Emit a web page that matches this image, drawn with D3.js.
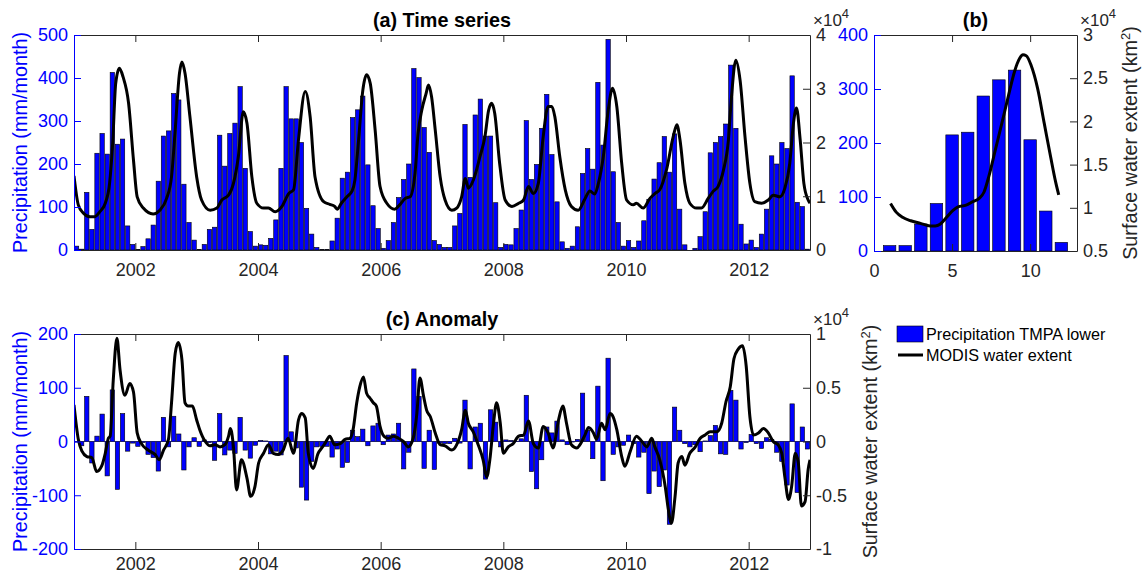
<!DOCTYPE html>
<html><head><meta charset="utf-8">
<script src="https://cdn.jsdelivr.net/npm/d3@7"></script>
<style>
body{margin:0;background:#fff}
svg{display:block}
text{font-family:"Liberation Sans",Arial,Helvetica,sans-serif}
</style>
</head><body>
<svg id="chart" width="1146" height="576"></svg>
<script>
// ---------------- DATA ----------------
const startYear = 2001;
const yearTicks = [2002, 2004, 2006, 2008, 2010, 2012];
// monthly precipitation (mm/month), Jan 2001 .. Dec 2012
const precip = [
  9, 2, 134, 48, 225, 271, 223, 413, 246, 258, 56, 13,
  1, 8, 26, 58, 160, 265, 277, 364, 349, 153, 64, 23,
  1, 13, 48, 53, 267, 195, 271, 295, 380, 190, 43, 9,
  12, 11, 27, 70, 190, 380, 305, 305, 250, 97, 37, 6,
  1, 1, 21, 74, 167, 181, 308, 326, 358, 198, 103, 50,
  4, 22, 64, 122, 164, 200, 422, 401, 285, 227, 22, 13,
  6, 6, 56, 85, 292, 169, 314, 351, 265, 265, 110, 6,
  13, 12, 50, 93, 301, 164, 199, 283, 362, 222, 112, 19,
  4, 9, 54, 178, 236, 188, 390, 244, 490, 182, 64, 9,
  22, 6, 21, 68, 118, 165, 203, 264, 181, 270, 95, 12,
  0, 4, 31, 89, 226, 250, 264, 293, 430, 283, 60, 14,
  23, 6, 37, 95, 219, 200, 250, 236, 405, 111, 101, 2
];
// precipitation anomaly (mm/month)
const precipAnomaly = [
  -1, -8, 84, -40, 10, 51, -64, 96, -89, 52, -18, -3,
  -9, -2, -24, -30, -55, 45, -10, 47, 14, -53, -10, 7,
  -9, 3, -2, -35, 52, -25, -16, -22, 45, -16, -31, -7,
  2, 1, -23, -18, -25, 160, 18, -12, -85, -109, -37, -10,
  -9, -9, -29, -14, -48, -39, 21, 9, 23, -8, 29, 34,
  -6, 12, 14, 34, -51, -20, 135, 84, -50, 21, -52, -3,
  -4, -4, 6, -3, 77, -51, 27, 34, -70, 59, 36, -10,
  3, 2, 0, 5, 86, -56, -88, -34, 27, 16, 38, 3,
  -6, -1, 4, 90, 21, -32, 103, -73, 155, -24, -10, -7,
  12, -4, -29, -20, -97, -55, -84, -53, -154, 64, 21, -4,
  -10, -6, -19, 1, 11, 30, -23, -24, 95, 77, -14, -2,
  13, -4, -13, 7, 4, -20, -37, -81, 70, -95, 27, -14
];
// MODIS water extent (x 10^4 km^2)
const waterTime = [2001.00,2001.07,2001.15,2001.26,2001.34,2001.42,2001.51,2001.58,2001.63,2001.68,2001.74,2001.80,2001.89,2001.97,
  2002.03,2002.13,2002.29,2002.40,2002.51,2002.59,2002.65,2002.72,2002.76,2002.81,2002.89,
  2003.00,2003.08,2003.22,2003.33,2003.41,2003.52,2003.60,2003.68,2003.76,2003.82,2003.90,2003.98,
  2004.09,2004.17,2004.28,2004.39,2004.50,2004.58,2004.66,2004.77,2004.85,2004.93,
  2005.07,2005.17,2005.25,2005.29,2005.36,2005.45,2005.53,2005.58,2005.64,2005.71,2005.77,2005.83,2005.91,2005.99,
  2006.10,2006.23,2006.31,2006.40,2006.48,2006.56,2006.61,2006.67,2006.74,2006.78,2006.83,2006.89,2006.97,
  2007.05,2007.16,2007.24,2007.32,2007.38,2007.43,2007.51,2007.62,2007.70,2007.76,2007.81,2007.86,2007.94,
  2008.03,2008.14,2008.25,2008.33,2008.41,2008.49,2008.57,2008.65,2008.73,2008.79,2008.84,2008.92,
  2009.01,2009.11,2009.22,2009.33,2009.41,2009.49,2009.55,2009.63,2009.71,2009.78,2009.85,2009.93,
  2010.01,2010.12,2010.17,2010.28,2010.39,2010.47,2010.55,2010.66,2010.77,2010.83,2010.88,2010.96,
  2011.04,2011.15,2011.23,2011.34,2011.42,2011.50,2011.59,2011.67,2011.72,2011.79,2011.86,2011.94,
  2012.02,2012.10,2012.21,2012.32,2012.40,2012.51,2012.59,2012.67,2012.73,2012.78,2012.84,2012.90,2012.97,2013.00];
const waterExtent = [1.38,0.84,0.69,0.62,0.62,0.71,0.87,1.24,1.98,3.10,3.38,3.22,2.73,1.67,
  0.99,0.78,0.67,0.74,0.96,1.36,2.23,3.29,3.50,3.29,2.48,
  1.36,0.93,0.74,0.78,0.93,1.02,1.24,1.74,2.57,2.36,1.36,0.87,
  0.78,0.78,0.71,0.81,1.05,1.12,2.05,2.95,2.48,1.36,
  0.90,0.85,0.81,0.76,0.87,0.99,1.09,1.30,2.05,2.98,3.26,3.10,2.23,1.18,
  0.87,0.76,0.84,0.96,0.99,1.43,2.17,2.60,2.91,3.07,2.85,2.23,1.36,
  0.93,0.74,0.78,0.99,1.33,1.15,1.30,1.74,2.11,2.60,2.73,2.54,1.61,
  0.93,0.81,0.87,0.93,1.18,1.05,1.24,2.11,2.67,2.67,2.48,1.74,
  1.12,0.81,0.74,0.95,1.10,1.04,1.24,1.74,2.60,3.01,2.67,1.61,
  0.93,0.84,0.87,0.78,0.96,1.05,1.12,1.49,2.11,2.33,2.05,1.24,
  0.87,0.78,0.78,0.96,1.09,1.18,1.49,2.05,2.85,3.53,3.16,2.11,
  1.24,0.90,0.87,0.93,1.02,0.99,1.15,1.61,2.36,2.64,2.05,1.24,0.93,0.87];
// monthly climatology
const climMonth = [1,2,3,4,5,6,7,8,9,10,11,12];
const climPrecip = [10, 10, 50, 88, 215, 220, 287, 317, 335, 206, 74, 16];
const climWaterMonth = [1.06,1.42,1.83,2.35,2.98,3.60,3.92,4.23,4.65,5.06,5.38,5.90,6.31,6.73,7.04,7.35,7.77,8.19,8.60,9.02,9.33,9.54,9.75,10.06,10.48,10.90,11.31,11.63,11.83];
const climWater = [1.05,0.95,0.89,0.85,0.82,0.79,0.79,0.81,0.89,0.97,1.01,1.03,1.07,1.11,1.18,1.36,1.67,1.98,2.29,2.59,2.73,2.77,2.76,2.65,2.38,1.98,1.59,1.30,1.15];
// water extent anomaly (x 10^4 km^2)
const anomTime = [2001.00,2001.07,2001.13,2001.21,2001.29,2001.37,2001.45,2001.51,2001.56,2001.59,2001.64,2001.70,2001.75,2001.83,2001.91,2001.97,
  2002.03,2002.10,2002.21,2002.32,2002.39,2002.46,2002.54,2002.59,2002.65,2002.70,2002.76,2002.81,2002.86,2002.93,
  2003.00,2003.05,2003.14,2003.22,2003.30,2003.38,2003.46,2003.52,2003.55,2003.60,2003.65,2003.73,2003.82,2003.88,2003.95,
  2004.01,2004.09,2004.17,2004.25,2004.33,2004.41,2004.49,2004.58,2004.66,2004.71,2004.77,2004.82,2004.90,2004.98,
  2005.04,2005.09,2005.17,2005.25,2005.34,2005.42,2005.50,2005.55,2005.61,2005.66,2005.72,2005.77,2005.83,2005.88,2005.93,2005.99,
  2006.04,2006.12,2006.21,2006.29,2006.37,2006.45,2006.53,2006.59,2006.64,2006.70,2006.75,2006.81,2006.89,2006.97,
  2007.05,2007.16,2007.24,2007.32,2007.38,2007.43,2007.51,2007.59,2007.67,2007.73,2007.78,2007.84,2007.89,2007.95,
  2008.00,2008.08,2008.16,2008.25,2008.33,2008.41,2008.49,2008.57,2008.65,2008.73,2008.81,2008.90,2008.97,
  2009.03,2009.11,2009.20,2009.25,2009.33,2009.39,2009.47,2009.52,2009.60,2009.66,2009.74,2009.79,2009.85,2009.93,2009.98,
  2010.07,2010.17,2010.26,2010.34,2010.42,2010.47,2010.55,2010.64,2010.69,2010.74,2010.80,2010.85,2010.91,2010.96,
  2011.04,2011.13,2011.21,2011.29,2011.37,2011.48,2011.56,2011.63,2011.70,2011.76,2011.83,2011.90,2011.96,
  2012.02,2012.08,2012.16,2012.24,2012.32,2012.40,2012.48,2012.54,2012.59,2012.65,2012.70,2012.76,2012.81,2012.86,2012.92,2012.97,2013.00];
const anomWater = [0.34,0.02,-0.09,-0.14,-0.15,-0.28,-0.23,-0.11,0.03,0.05,0.57,0.96,0.67,0.43,0.54,0.46,
  0.08,-0.02,-0.08,-0.12,-0.17,-0.08,0.02,0.36,0.82,0.92,0.76,0.36,0.33,0.33,
  0.20,0.11,0.00,-0.04,-0.03,-0.05,-0.03,0.05,0.12,-0.05,-0.45,-0.17,-0.34,-0.51,-0.42,
  -0.20,-0.11,-0.03,-0.11,-0.12,-0.08,0.03,-0.11,0.20,0.26,0.22,-0.11,-0.25,-0.11,
  -0.06,-0.02,0.05,-0.03,-0.02,0.02,0.03,0.11,0.36,0.51,0.60,0.45,0.40,0.36,0.33,0.14,
  0.06,0.03,0.05,0.03,0.00,-0.05,0.03,0.26,0.59,0.42,0.29,0.23,0.08,-0.03,
  -0.04,-0.08,-0.03,0.11,0.29,0.17,0.09,-0.03,-0.17,-0.33,-0.17,0.17,0.36,0.17,
  -0.11,-0.05,-0.02,0.05,0.06,0.19,-0.02,-0.06,0.14,0.08,-0.06,0.20,0.33,
  0.17,-0.03,-0.06,-0.03,0.06,0.13,0.08,0.02,0.17,0.11,0.26,0.23,0.11,-0.14,-0.23,
  -0.09,0.05,0.00,-0.05,0.03,-0.05,-0.17,-0.42,-0.63,-0.76,-0.51,-0.20,-0.14,-0.22,
  -0.11,-0.05,0.03,0.06,0.09,0.09,0.17,0.37,0.51,0.77,0.86,0.89,0.70,
  0.23,0.06,0.08,0.12,0.08,0.00,-0.03,-0.11,-0.33,-0.54,-0.42,-0.11,-0.20,-0.60,-0.56,-0.26,-0.17];

const titles = ["(a) Time series", "(b)", "(c) Anomaly"];
const leftLabel = "Precipitation (mm/month)";
const rightLabel = "Surface water extent (km";
const legendLabels = ["Precipitation TMPA lower", "MODIS water extent"];

// ---------------- LAYOUT ----------------
const svg = d3.select("#chart");
const AX = "#262626", BLUE = "#0000ff";
const FS = 18, LFS = 19.8;
const TICK = 7;
const PA = {l: 74, r: 810, t: 35, b: 250};
const PB = {l: 874, r: 1077, t: 35, b: 251};
const PC = {l: 74, r: 810, t: 334, b: 549};

function clip(id, P) {
  svg.append("defs").append("clipPath").attr("id", id)
    .append("rect").attr("x", P.l).attr("y", P.t).attr("width", P.r - P.l).attr("height", P.b - P.t);
}
clip("clipA", PA); clip("clipB", PB); clip("clipC", PC);

function styleAxis(g, color, fs) {
  g.attr("font-size", fs).attr("font-family", null);
  g.selectAll("path.domain").attr("stroke", color).attr("stroke-width", 1);
  g.selectAll(".tick line").attr("stroke", color).attr("stroke-width", 1);
  g.selectAll(".tick text").attr("fill", color);
}

function drawFrame(P, xs, yl, yr, o) {
  const g = svg.append("g");
  const bot = g.append("g").attr("transform", `translate(0,${P.b})`)
    .call(d3.axisBottom(xs).tickValues(o.xticks).tickFormat(d => String(d)).tickSize(-TICK).tickSizeOuter(0).tickPadding(o.xpad));
  styleAxis(bot, AX, FS);
  const top = g.append("g").attr("transform", `translate(0,${P.t})`)
    .call(d3.axisTop(xs).tickValues(o.xticks).tickFormat("").tickSize(-TICK).tickSizeOuter(0));
  styleAxis(top, AX, FS);
  const right = g.append("g").attr("transform", `translate(${P.r},0)`)
    .call(d3.axisRight(yr).tickValues(o.yrticks).tickFormat(d => String(d)).tickSize(-TICK).tickSizeOuter(0).tickPadding(6));
  styleAxis(right, AX, FS);
  const left = g.append("g").attr("transform", `translate(${P.l},0)`)
    .call(d3.axisLeft(yl).tickValues(o.ylticks).tickFormat(d => String(d)).tickSize(-TICK).tickSizeOuter(0).tickPadding(6));
  styleAxis(left, BLUE, FS);
  // x10^4 multiplier
  const m = svg.append("text").attr("x", P.r + 3).attr("y", P.t - 9)
    .attr("font-size", 17).attr("fill", AX).text("\u00d710");
  m.append("tspan").attr("dy", -8).attr("font-size", 13).text("4");
}

function rotLabel(x, y, txt, color, sup) {
  const t = svg.append("text").attr("transform", `translate(${x},${y}) rotate(-90)`)
    .attr("text-anchor", "middle").attr("font-size", LFS).attr("fill", color).text(txt);
  if (sup) {
    t.append("tspan").attr("dy", -7).attr("font-size", 13).text("2");
    t.append("tspan").attr("dy", 7).text(")");
  }
}

function title(P, txt, y) {
  svg.append("text").attr("x", (P.l + P.r) / 2).attr("y", y).attr("text-anchor", "middle")
    .attr("font-size", LFS).attr("font-weight", "bold").attr("fill", "#000").text(txt);
}

const monthCenter = i => startYear + (i + 0.5) / 12;
const lineGen = (xs, ys) => d3.line().x(d => xs(d[0])).y(d => ys(d[1])).curve(d3.curveMonotoneX);

// ---------------- PANEL A ----------------
{
  const x = d3.scaleLinear().domain([2001, 2013]).range([PA.l, PA.r]);
  const yl = d3.scaleLinear().domain([0, 500]).range([PA.b, PA.t]);
  const yr = d3.scaleLinear().domain([0, 4]).range([PA.b, PA.t]);
  const bw = (x(2001 + 1 / 12) - x(2001)) * 0.85;
  const g = svg.append("g").attr("clip-path", "url(#clipA)");
  g.selectAll("rect").data(precip).join("rect")
    .attr("x", (d, i) => x(monthCenter(i)) - bw / 2).attr("width", bw)
    .attr("y", d => yl(d)).attr("height", d => yl(0) - yl(d))
    .attr("fill", BLUE).attr("stroke", "#000").attr("stroke-width", 0.6);
  g.append("path").datum(d3.zip(waterTime, waterExtent)).attr("d", lineGen(x, yr))
    .attr("fill", "none").attr("stroke", "#000").attr("stroke-width", 3).attr("stroke-linejoin", "round");
  drawFrame(PA, x, yl, yr, {xticks: yearTicks, xpad: 13, yrticks: [0, 1, 2, 3, 4], ylticks: [0, 100, 200, 300, 400, 500]});
  title(PA, titles[0], 27);
  rotLabel(27, (PA.t + PA.b) / 2, leftLabel, BLUE);
}

// ---------------- PANEL B ----------------
{
  const x = d3.scaleLinear().domain([0, 13]).range([PB.l, PB.r]);
  const yl = d3.scaleLinear().domain([0, 400]).range([PB.b, PB.t]);
  const yr = d3.scaleLinear().domain([0.5, 3]).range([PB.b, PB.t]);
  const bw = (x(1) - x(0)) * 0.8;
  const g = svg.append("g").attr("clip-path", "url(#clipB)");
  g.selectAll("rect").data(climPrecip).join("rect")
    .attr("x", (d, i) => x(climMonth[i]) - bw / 2).attr("width", bw)
    .attr("y", d => yl(d)).attr("height", d => yl(0) - yl(d))
    .attr("fill", BLUE).attr("stroke", "#000").attr("stroke-width", 0.6);
  g.append("path").datum(d3.zip(climWaterMonth, climWater)).attr("d", lineGen(x, yr))
    .attr("fill", "none").attr("stroke", "#000").attr("stroke-width", 3).attr("stroke-linejoin", "round");
  drawFrame(PB, x, yl, yr, {xticks: [0, 5, 10], xpad: 13, yrticks: [0.5, 1, 1.5, 2, 2.5, 3], ylticks: [0, 100, 200, 300, 400]});
  title(PB, titles[1], 27);
  rotLabel(1137, (PB.t + PB.b) / 2, rightLabel, AX, true);
}

// ---------------- PANEL C ----------------
{
  const x = d3.scaleLinear().domain([2001, 2013]).range([PC.l, PC.r]);
  const yl = d3.scaleLinear().domain([-200, 200]).range([PC.b, PC.t]);
  const yr = d3.scaleLinear().domain([-1, 1]).range([PC.b, PC.t]);
  const bw = (x(2001 + 1 / 12) - x(2001)) * 0.85;
  const g = svg.append("g").attr("clip-path", "url(#clipC)");
  g.selectAll("rect").data(precipAnomaly).join("rect")
    .attr("x", (d, i) => x(monthCenter(i)) - bw / 2).attr("width", bw)
    .attr("y", d => yl(Math.max(0, d))).attr("height", d => Math.abs(yl(d) - yl(0)))
    .attr("fill", BLUE).attr("stroke", "#000").attr("stroke-width", 0.6);
  g.append("line").attr("x1", PC.l).attr("x2", PC.r).attr("y1", yl(0)).attr("y2", yl(0))
    .attr("stroke", "#1a1a70").attr("stroke-width", 1);
  g.append("path").datum(d3.zip(anomTime, anomWater)).attr("d", lineGen(x, yr))
    .attr("fill", "none").attr("stroke", "#000").attr("stroke-width", 3).attr("stroke-linejoin", "round");
  drawFrame(PC, x, yl, yr, {xticks: yearTicks, xpad: 8, yrticks: [-1, -0.5, 0, 0.5, 1], ylticks: [-200, -100, 0, 100, 200]});
  title(PC, titles[2], 326);
  rotLabel(27, (PC.t + PC.b) / 2, leftLabel, BLUE);
  rotLabel(877, (PC.t + PC.b) / 2, rightLabel, AX, true);
}

// ---------------- LEGEND ----------------
{
  const g = svg.append("g");
  g.append("rect").attr("x", 897).attr("y", 326).attr("width", 26).attr("height", 16)
    .attr("fill", BLUE).attr("stroke", "#000").attr("stroke-width", 0.6);
  g.append("line").attr("x1", 898).attr("x2", 923).attr("y1", 355).attr("y2", 355)
    .attr("stroke", "#000").attr("stroke-width", 3);
  g.append("text").attr("x", 926).attr("y", 340).attr("font-size", 16.2).attr("fill", "#000").text(legendLabels[0]);
  g.append("text").attr("x", 926).attr("y", 361).attr("font-size", 16.2).attr("fill", "#000").text(legendLabels[1]);
}
</script>
</body></html>
